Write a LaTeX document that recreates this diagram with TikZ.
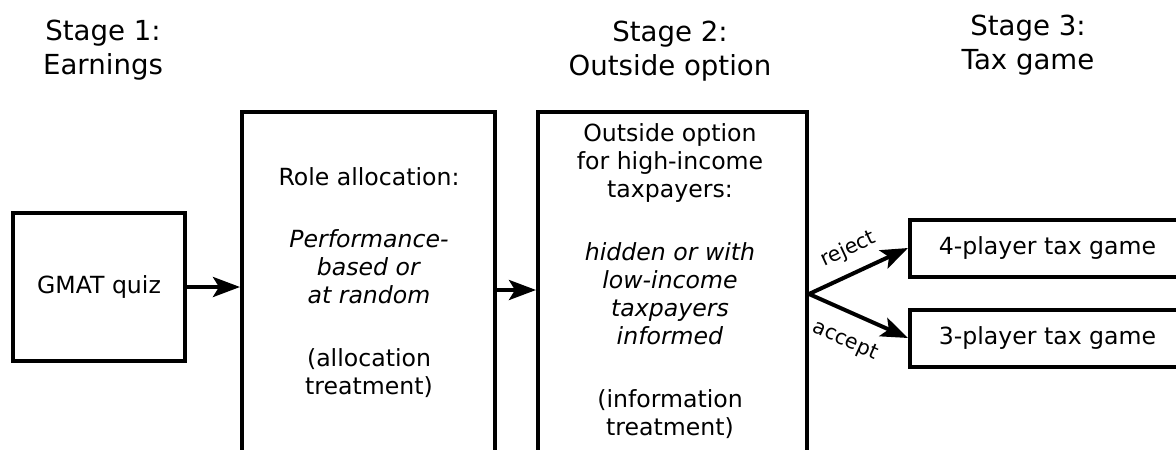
\documentclass[tikz,border=0pt]{standalone}
\usepackage{fontspec}
\setmainfont{DejaVu Sans}
\usetikzlibrary{arrows.meta}
\begin{document}
\begin{tikzpicture}[x=1pt,y=-1pt,
  stagebox/.style={draw, line width=4pt, inner sep=0pt, fill=white,
    font=\fontsize{23.6}{28}\selectfont},
  bodytext/.style={font=\fontsize{23.6}{28}\selectfont, align=center, inner sep=0pt},
  headtext/.style={font=\fontsize{27.6}{34}\selectfont, align=center, inner sep=0pt},
  flow/.style={line width=4pt, -{Stealth[length=27pt,width=20pt,inset=6pt]}},
  branchlabel/.style={font=\fontsize{20.5}{22}\selectfont, sloped, inner sep=0pt}]

\useasboundingbox (0,0) rectangle (1176,450);
\clip (0,0) rectangle (1176,450);
\fill[white] (0,0) rectangle (1176,450);

% stage headings
\node[headtext, anchor=north] (h1) at (103,19.5) {Stage 1:\\Earnings};
\node[headtext, anchor=north] (h2) at (670,20.5) {Stage 2:\\Outside option};
\node[headtext, anchor=north] (h3) at (1028,14.5) {Stage 3:\\Tax game};

% stage 1
\node[stagebox, minimum width=172pt, minimum height=148pt] (gmat) at (99,287) {GMAT quiz};

% role allocation
\node[stagebox, minimum width=253pt, minimum height=356pt] (role) at (368.5,290) {};
\node[bodytext, anchor=north] (roletxt) at (369,167)
  {Role allocation:\\[34.5pt]
   \textit{Performance-}\\\textit{based or}\\\textit{at random}\\[34.5pt]
   (allocation\\treatment)};

% stage 2
\node[stagebox, minimum width=269pt, minimum height=364pt] (outside) at (672.5,294) {};
\node[bodytext, anchor=north] (outtxt) at (670,123)
  {Outside option\\for high-income\\taxpayers:\\[35pt]
   \textit{hidden or with}\\\textit{low-income}\\\textit{taxpayers}\\\textit{informed}\\[35pt]
   (information\\treatment)};

% stage 3
\node[stagebox, minimum width=275pt, minimum height=57pt] (four) at (1047.5,248) {4-player tax game};
\node[stagebox, minimum width=275pt, minimum height=57pt] (three) at (1047.5,338) {3-player tax game};

% connectors
\draw[flow] (gmat.east) -- (gmat.east -| role.west);
\draw[flow] (role.east) -- (role.east -| outside.west);
\draw[flow] (outside.east) -- node[branchlabel, pos=0.5, above=12pt] {reject} (four.west);
\draw[flow] (outside.east) -- node[branchlabel, pos=0.48, below=17pt] {accept} (three.west);

\end{tikzpicture}
\end{document}
